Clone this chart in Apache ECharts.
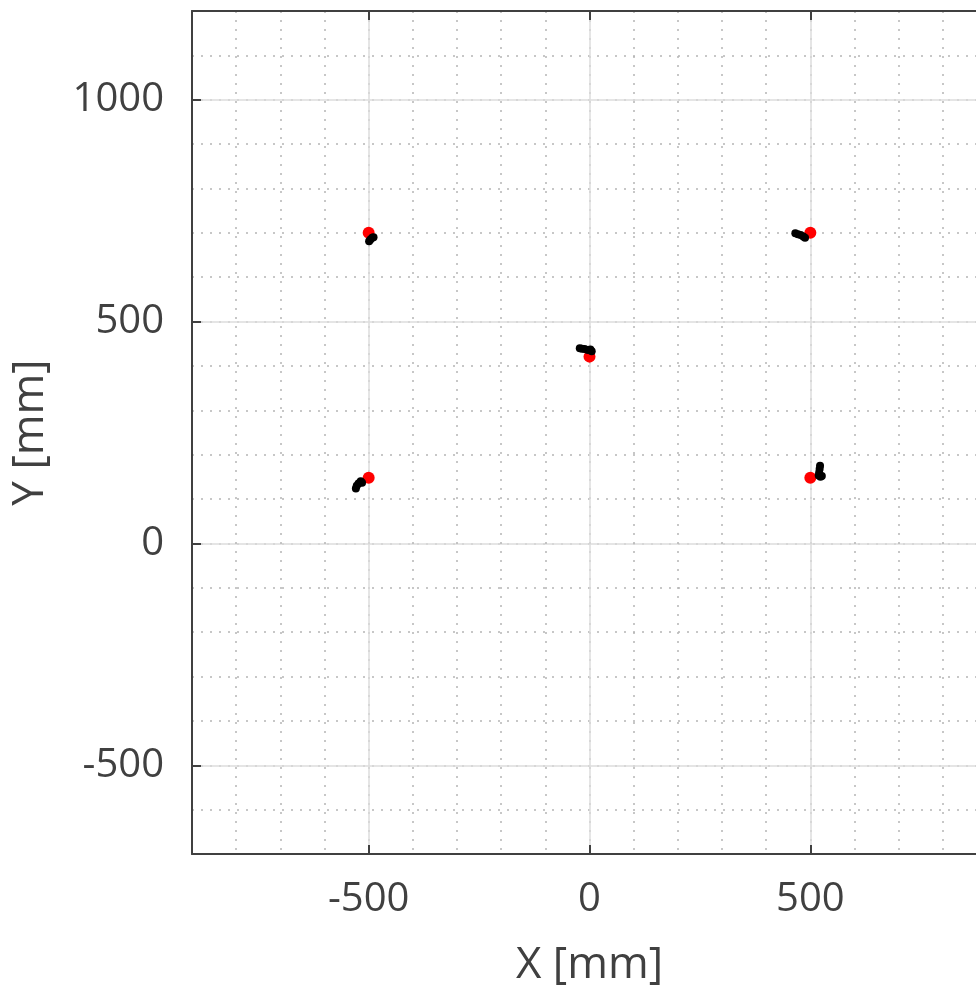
<!DOCTYPE html>
<html>
<head>
<meta charset="utf-8">
<script src="https://cdn.jsdelivr.net/npm/echarts@6/dist/echarts.min.js"></script>
<style>
  html, body { margin: 0; padding: 0; background: #fff; }
  #chart { width: 976px; height: 992px; }
</style>
</head>
<body>
<div id="chart"></div>
<script>
// Nominal target positions [x, y] in mm
const targetPoints = [
  [-500, 700],
  [500, 700],
  [0, 421],
  [-500, 148],
  [500, 148]
];

// Measured positions [x, y] in mm
const measuredPoints = [
  [-499, 681], [-496, 685], [-492, 689], [-489, 690],
  [466, 699], [472, 697], [478, 695], [484, 692], [488, 689],
  [-22, 440], [-17, 439], [-11, 438], [-4, 436], [2, 437], [5, 433],
  [-529, 124], [-527, 130], [-523, 135], [-518, 140], [-515, 137],
  [522, 175], [521, 168], [520, 160], [519, 153], [523, 150], [526, 152]
];

const xRange = [-900, 900];
const yRange = [-700, 1200];
const xMajorTicks = [-500, 0, 500];
const yMajorTicks = [-500, 0, 500, 1000];
const minorStep = 100;

const textColor = '#404040';
const fontFamily = '"Open Sans", "Noto Sans", sans-serif';

const minorGrid = {
  show: true,
  lineStyle: { color: '#b5b5b5', width: 1.5, type: [2, 7] }
};

function minorAxis(position, range) {
  return {
    type: 'value', position: position,
    min: range[0], max: range[1], interval: minorStep,
    axisLine: { show: false }, axisTick: { show: false }, axisLabel: { show: false },
    splitLine: minorGrid
  };
}

function frameAxis(position, range, majors) {
  return {
    type: 'value', position: position,
    min: range[0], max: range[1], interval: minorStep,
    axisLine: { show: true, onZero: false, lineStyle: { color: textColor, width: 2 } },
    axisTick: { show: true, inside: true, length: 9, customValues: majors,
      lineStyle: { color: textColor, width: 2 } },
    axisLabel: { show: false },
    splitLine: { show: false }
  };
}

function mainAxis(position, range, majors, name, nameGap, labelMargin) {
  return {
    type: 'value', position: position,
    min: range[0], max: range[1], interval: minorStep,
    name: name, nameLocation: 'middle', nameGap: nameGap,
    nameTextStyle: { color: textColor, fontSize: 44, fontFamily: fontFamily },
    axisLine: { show: true, onZero: false, lineStyle: { color: textColor, width: 2 } },
    axisTick: { show: true, inside: true, length: 9, customValues: majors,
      lineStyle: { color: textColor, width: 2 } },
    axisLabel: { show: true, customValues: majors, color: textColor, fontSize: 40,
      fontFamily: fontFamily, margin: labelMargin,
      formatter: function (v) { return String(v); } },
    splitLine: { show: true, lineStyle: { color: '#dcdcdc', width: 1.5, type: 'solid' } }
  };
}

const chart = echarts.init(document.getElementById('chart'), null, { renderer: 'canvas' });
chart.setOption({
  animation: false,
  backgroundColor: '#ffffff',
  grid: { left: 192, top: 11, right: -11, height: 843, containLabel: false,
    outerBoundsMode: 'none' },
  xAxis: [
    minorAxis('top', xRange),
    mainAxis('bottom', xRange, xMajorTicks, 'X [mm]', 89, 26),
    frameAxis('top', xRange, xMajorTicks)
  ],
  yAxis: [
    minorAxis('right', yRange),
    mainAxis('left', yRange, yMajorTicks, 'Y [mm]', 140, 28)
  ],
  series: [
    {
      name: 'Target', type: 'scatter', xAxisIndex: 1, yAxisIndex: 1,
      data: targetPoints, symbol: 'circle', symbolSize: 12,
      itemStyle: { color: '#ff0000', opacity: 1 }, z: 3
    },
    {
      name: 'Measured', type: 'scatter', xAxisIndex: 1, yAxisIndex: 1,
      data: measuredPoints, symbol: 'circle', symbolSize: 8,
      itemStyle: { color: '#000000', opacity: 1 }, z: 4
    }
  ]
});
</script>
</body>
</html>
